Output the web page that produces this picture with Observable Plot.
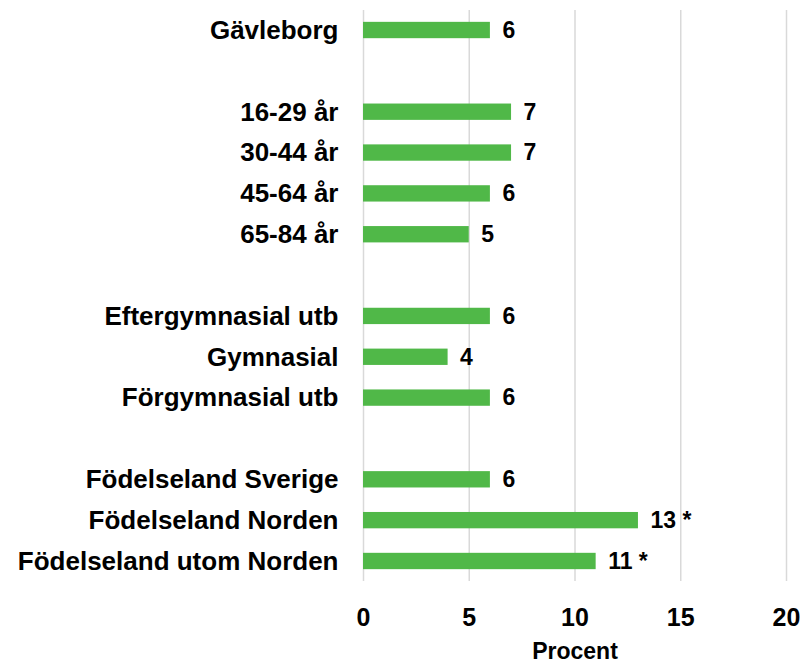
<!DOCTYPE html>
<html>
<head>
<meta charset="utf-8">
<script src="https://cdn.jsdelivr.net/npm/d3@7"></script>
<script src="https://cdn.jsdelivr.net/npm/@observablehq/plot@0.6"></script>
<style>
  html, body { margin: 0; padding: 0; background: #fff; }
  body { width: 807px; height: 664px; overflow: hidden; }
  svg { font-family: "Liberation Sans", Arial, sans-serif; }
</style>
</head>
<body>
<div id="chart"></div>
<script>
// Row order, including blank spacer rows between groups
const categories = [
  "Gävleborg", " ",
  "16-29 år", "30-44 år", "45-64 år", "65-84 år", "  ",
  "Eftergymnasial utb", "Gymnasial", "Förgymnasial utb", "   ",
  "Födelseland Sverige", "Födelseland Norden", "Födelseland utom Norden"
];
const barCategories = [
  "Gävleborg",
  "16-29 år", "30-44 år", "45-64 år", "65-84 år",
  "Eftergymnasial utb", "Gymnasial", "Förgymnasial utb",
  "Födelseland Sverige", "Födelseland Norden", "Födelseland utom Norden"
];
const values = [6, 7, 7, 6, 5, 6, 4, 6, 6, 13, 11];
const valueLabels = ["6", "7", "7", "6", "5", "6", "4", "6", "6", "13 *", "11 *"];
const xTicks = [0, 5, 10, 15, 20];
const axisTitle = "Procent";

const data = barCategories.map((c, i) => ({cat: c, value: values[i], label: valueLabels[i]}));

const font = "Liberation Sans, Arial, sans-serif";

const chart = Plot.plot({
  width: 807,
  height: 664,
  marginLeft: 363,
  marginRight: 21,
  marginTop: 10,
  marginBottom: 83,
  style: {fontFamily: font, background: "#fff", color: "#000"},
  x: {domain: [0, 20]},
  y: {domain: categories, paddingInner: 0.6, paddingOuter: 0.29, align: 0.5, round: false},
  marks: [
    Plot.gridX(xTicks, {stroke: "#d9d9d9", strokeOpacity: 1, strokeWidth: 1.5}),
    Plot.barX(data, {x: "value", y: "cat", fill: "#50b848"}),
    Plot.text(data, {
      x: "value", y: "cat", text: "label", textAnchor: "start", dx: 12,
      fontSize: 23, fontWeight: "bold", fill: "#000", fontFamily: font
    }),
    Plot.axisY({
      tickSize: 0, tickPadding: 25, label: null,
      fontSize: 26, fontWeight: "bold", fill: "#000", fontFamily: font
    }),
    Plot.axisX({
      ticks: xTicks, tickSize: 0, tickPadding: 27, label: null,
      fontSize: 25, fontWeight: "bold", fill: "#000", fontFamily: font
    }),
    Plot.text([axisTitle], {
      frameAnchor: "bottom", dy: 77, text: d => d,
      fontSize: 23, fontWeight: "bold", fill: "#000", fontFamily: font
    })
  ]
});

document.getElementById("chart").appendChild(chart);
</script>
</body>
</html>
